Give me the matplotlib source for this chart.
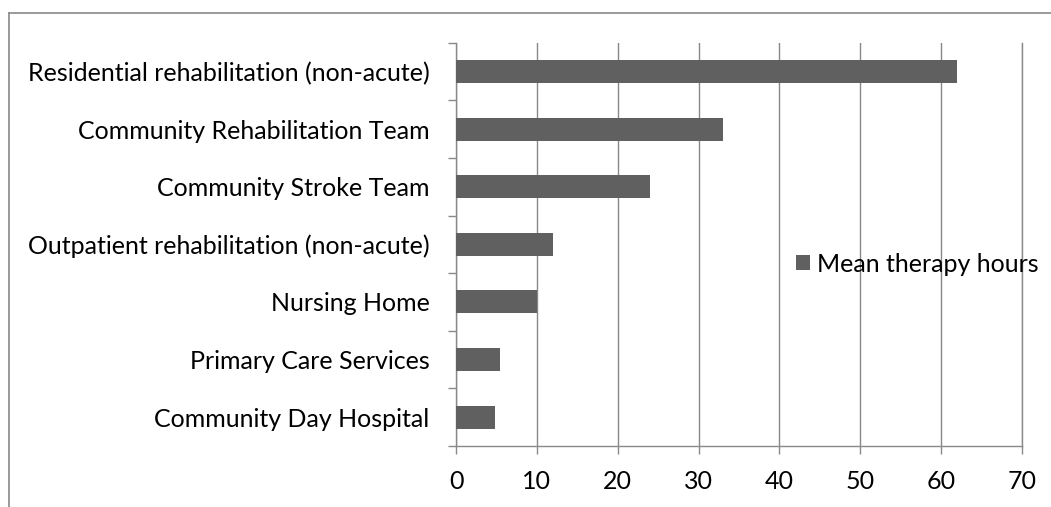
import matplotlib
matplotlib.use("Agg")
import matplotlib.pyplot as plt
from matplotlib.lines import Line2D

categories = [
    "Residential rehabilitation (non-acute)",
    "Community Rehabilitation Team",
    "Community Stroke Team",
    "Outpatient rehabilitation (non-acute)",
    "Nursing Home",
    "Primary Care Services",
    "Community Day Hospital",
]
values = [62, 33, 24, 12, 10, 5.4, 4.8]
series_name = "Mean therapy hours"
x_ticks = [0, 10, 20, 30, 40, 50, 60, 70]

plt.rcParams['font.family'] = ['Lato', 'DejaVu Sans']
FS = 18
GREY = '#898989'
BAR = '#606060'

fig = plt.figure(figsize=(10.51, 5.07), dpi=100)
W, H = 1051, 507
ax = fig.add_axes([456 / W, 1 - 446 / H, (1022 - 456) / W, (446 - 42.7) / H])

pos = list(range(len(categories)))
ax.barh(pos, values, height=0.4, color=BAR, label=series_name, zorder=3)
ax.set_ylim(len(categories) - 0.5, -0.5)
ax.set_xlim(0, 70)

ax.set_yticks(pos)
ax.set_yticklabels(categories, fontsize=FS)
ax.set_yticks([p - 0.5 for p in range(len(categories) + 1)], minor=True)
ax.tick_params(axis='y', which='major', length=0, pad=19)
ax.tick_params(axis='y', which='minor', length=5.5, width=1, color=GREY, direction='out')

ax.set_xticks(x_ticks)
ax.set_xticklabels([str(t) for t in x_ticks], fontsize=FS)
ax.tick_params(axis='x', which='major', length=5.5, width=1, color=GREY, direction='out', pad=12)

ax.grid(axis='x', color=GREY, linewidth=1.0, zorder=0)
ax.set_axisbelow(True)
ax.spines['top'].set_visible(False)
for s in ['left', 'bottom', 'right']:
    ax.spines[s].set_color(GREY)
    ax.spines[s].set_linewidth(1.0)

leg = ax.legend(loc='center left', bbox_to_anchor=(796 / W, 1 - 264 / H),
                bbox_transform=fig.transFigure, frameon=False, fontsize=FS,
                handlelength=0.55, handleheight=0.55, handletextpad=0.28,
                borderpad=0, borderaxespad=0)

# outer chart border (top and left edges visible)
fig.add_artist(Line2D([9 / W, 1], [1 - 13 / H, 1 - 13 / H], transform=fig.transFigure,
                      color=GREY, linewidth=1.2))
fig.add_artist(Line2D([9 / W, 9 / W], [0, 1 - 13 / H], transform=fig.transFigure,
                      color=GREY, linewidth=1.2))

fig.savefig("out.png", dpi=100, facecolor='white')
